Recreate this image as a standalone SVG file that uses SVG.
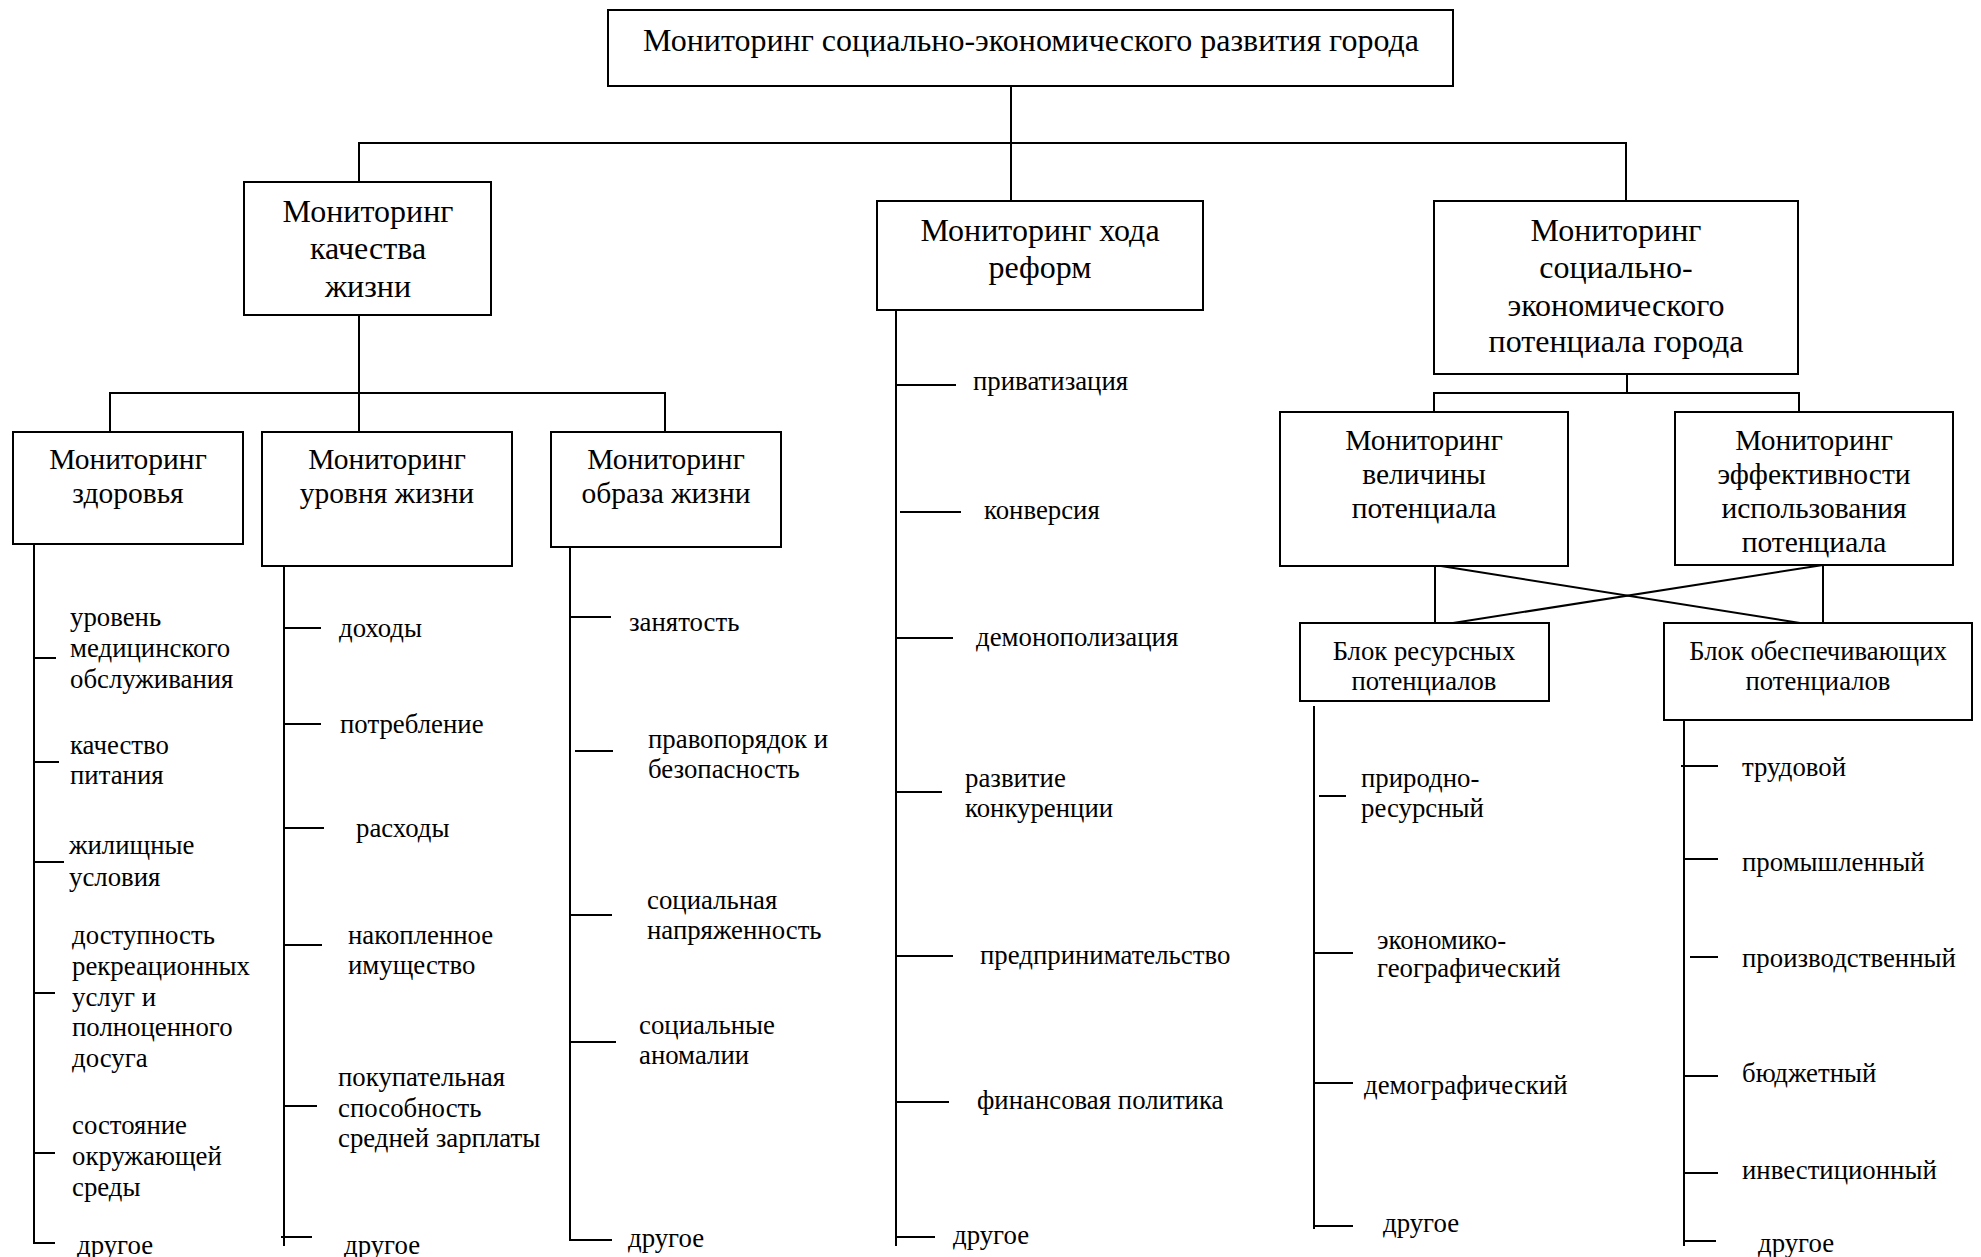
<svg xmlns="http://www.w3.org/2000/svg" width="1981" height="1257" viewBox="0 0 1981 1257">
<style>
.box{fill:#fff;stroke:#000;stroke-width:2}
line,polyline{stroke:#000;stroke-width:2;fill:none}
text{font-family:"Liberation Serif","Times New Roman",serif;fill:#000}
.t1{font-size:32px;text-anchor:middle}
.t2{font-size:32px;text-anchor:middle}
.t3{font-size:29.5px;text-anchor:middle}
.t4{font-size:26.7px;text-anchor:middle}
.it{font-size:26.8px}
</style>
<rect width="1981" height="1257" fill="#fff"/>
<g id="connectors">
<line x1="1011" y1="86" x2="1011" y2="201"/>
<polyline points="359,182 359,143 1626,143 1626,201"/>
<line x1="359" y1="315" x2="359" y2="432"/>
<polyline points="110,432 110,393 665,393 665,432"/>
<line x1="1627" y1="374" x2="1627" y2="393"/>
<polyline points="1434,412 1434,393 1799,393 1799,412"/>
<line x1="1435" y1="566" x2="1435" y2="623"/>
<line x1="1823" y1="565" x2="1823" y2="623"/>
<line x1="1441" y1="566" x2="1800" y2="623"/>
<line x1="1823" y1="565" x2="1453" y2="623"/>
<!-- spines -->
<line x1="34" y1="542" x2="34" y2="1244"/>
<line x1="284" y1="566" x2="284" y2="1246"/>
<line x1="570" y1="547" x2="570" y2="1241"/>
<line x1="896" y1="310" x2="896" y2="1246"/>
<line x1="1314" y1="706" x2="1314" y2="1229"/>
<line x1="1684" y1="720" x2="1684" y2="1246"/>
<!-- ticks health -->
<line x1="34" y1="658" x2="56" y2="658"/>
<line x1="34" y1="762" x2="59" y2="762"/>
<line x1="34" y1="862" x2="64" y2="862"/>
<line x1="34" y1="993" x2="55" y2="993"/>
<line x1="34" y1="1153" x2="55" y2="1153"/>
<line x1="33" y1="1243" x2="55" y2="1243"/>
<!-- ticks level -->
<line x1="284" y1="628" x2="321" y2="628"/>
<line x1="284" y1="724" x2="321" y2="724"/>
<line x1="284" y1="828" x2="324" y2="828"/>
<line x1="284" y1="945" x2="322" y2="945"/>
<line x1="284" y1="1106" x2="317" y2="1106"/>
<line x1="281" y1="1237" x2="312" y2="1237"/>
<!-- ticks lifestyle -->
<line x1="570" y1="617" x2="611" y2="617"/>
<line x1="575" y1="751" x2="613" y2="751"/>
<line x1="570" y1="915" x2="612" y2="915"/>
<line x1="570" y1="1042" x2="616" y2="1042"/>
<line x1="569" y1="1240" x2="612" y2="1240"/>
<!-- ticks reforms -->
<line x1="896" y1="385" x2="956" y2="385"/>
<line x1="900" y1="512" x2="961" y2="512"/>
<line x1="896" y1="638" x2="953" y2="638"/>
<line x1="896" y1="792" x2="942" y2="792"/>
<line x1="896" y1="956" x2="953" y2="956"/>
<line x1="896" y1="1102" x2="949" y2="1102"/>
<line x1="896" y1="1237" x2="935" y2="1237"/>
<!-- ticks resources -->
<line x1="1319" y1="796" x2="1346" y2="796"/>
<line x1="1314" y1="953" x2="1353" y2="953"/>
<line x1="1314" y1="1083" x2="1353" y2="1083"/>
<line x1="1314" y1="1226" x2="1353" y2="1226"/>
<!-- ticks provision -->
<line x1="1681" y1="766" x2="1718" y2="766"/>
<line x1="1684" y1="859" x2="1718" y2="859"/>
<line x1="1690" y1="957" x2="1718" y2="957"/>
<line x1="1684" y1="1076" x2="1718" y2="1076"/>
<line x1="1684" y1="1173" x2="1718" y2="1173"/>
<line x1="1684" y1="1241" x2="1716" y2="1241"/>
</g>
<g id="root">
<rect class="box" x="608" y="10" width="845" height="76"/>
<text class="t1" x="1031" y="51">Мониторинг социально-экономического развития города</text>
</g>
<g id="quality">
<rect class="box" x="244" y="182" width="247" height="133"/>
<text class="t2" x="368" y="222">Мониторинг</text>
<text class="t2" x="368" y="259">качества</text>
<text class="t2" x="368" y="297">жизни</text>
</g>
<g id="reforms">
<rect class="box" x="877" y="201" width="326" height="109"/>
<text class="t2" x="1040" y="241">Мониторинг хода</text>
<text class="t2" x="1040" y="278">реформ</text>
</g>
<g id="potential">
<rect class="box" x="1434" y="201" width="364" height="173"/>
<text class="t2" x="1616" y="241">Мониторинг</text>
<text class="t2" x="1616" y="278">социально-</text>
<text class="t2" x="1616" y="316">экономического</text>
<text class="t2" x="1616" y="352">потенциала города</text>
</g>
<g id="health">
<rect class="box" x="13" y="432" width="230" height="112"/>
<text class="t3" x="128" y="469">Мониторинг</text>
<text class="t3" x="128" y="503">здоровья</text>
<text class="it" x="70" y="626">уровень</text>
<text class="it" x="70" y="657">медицинского</text>
<text class="it" x="70" y="688">обслуживания</text>
<text class="it" x="70" y="754">качество</text>
<text class="it" x="70" y="784">питания</text>
<text class="it" x="69" y="854">жилищные</text>
<text class="it" x="69" y="886">условия</text>
<text class="it" x="72" y="944">доступность</text>
<text class="it" x="72" y="975">рекреационных</text>
<text class="it" x="72" y="1006">услуг и</text>
<text class="it" x="72" y="1036">полноценного</text>
<text class="it" x="72" y="1067">досуга</text>
<text class="it" x="72" y="1134">состояние</text>
<text class="it" x="72" y="1165">окружающей</text>
<text class="it" x="72" y="1196">среды</text>
<text class="it" x="77" y="1254">другое</text>
</g>
<g id="living-standard">
<rect class="box" x="262" y="432" width="250" height="134"/>
<text class="t3" x="387" y="469">Мониторинг</text>
<text class="t3" x="387" y="503">уровня жизни</text>
<text class="it" x="339" y="637">доходы</text>
<text class="it" x="340" y="733">потребление</text>
<text class="it" x="356" y="837">расходы</text>
<text class="it" x="348" y="944">накопленное</text>
<text class="it" x="348" y="974">имущество</text>
<text class="it" x="338" y="1086">покупательная</text>
<text class="it" x="338" y="1117">способность</text>
<text class="it" x="338" y="1147">средней зарплаты</text>
<text class="it" x="344" y="1254">другое</text>
</g>
<g id="lifestyle">
<rect class="box" x="551" y="432" width="230" height="115"/>
<text class="t3" x="666" y="469">Мониторинг</text>
<text class="t3" x="666" y="503">образа жизни</text>
<text class="it" x="629" y="631">занятость</text>
<text class="it" x="648" y="748">правопорядок и</text>
<text class="it" x="648" y="778">безопасность</text>
<text class="it" x="647" y="909">социальная</text>
<text class="it" x="647" y="939">напряженность</text>
<text class="it" x="639" y="1034">социальные</text>
<text class="it" x="639" y="1064">аномалии</text>
<text class="it" x="628" y="1247">другое</text>
</g>
<g id="reform-items">
<text class="it" x="973" y="390">приватизация</text>
<text class="it" x="984" y="519">конверсия</text>
<text class="it" x="976" y="646">демонополизация</text>
<text class="it" x="965" y="787">развитие</text>
<text class="it" x="965" y="817">конкуренции</text>
<text class="it" x="980" y="964">предпринимательство</text>
<text class="it" x="977" y="1109">финансовая политика</text>
<text class="it" x="953" y="1244">другое</text>
</g>
<g id="magnitude">
<rect class="box" x="1280" y="412" width="288" height="154"/>
<text class="t3" x="1424" y="450">Мониторинг</text>
<text class="t3" x="1424" y="484">величины</text>
<text class="t3" x="1424" y="518">потенциала</text>
</g>
<g id="efficiency">
<rect class="box" x="1675" y="412" width="278" height="153"/>
<text class="t3" x="1814" y="450">Мониторинг</text>
<text class="t3" x="1814" y="484">эффективности</text>
<text class="t3" x="1814" y="518">использования</text>
<text class="t3" x="1814" y="552">потенциала</text>
</g>
<g id="resource-block">
<rect class="box" x="1300" y="623" width="249" height="78"/>
<text class="t4" x="1424" y="660">Блок ресурсных</text>
<text class="t4" x="1424" y="690">потенциалов</text>
<text class="it" x="1361" y="787">природно-</text>
<text class="it" x="1361" y="817">ресурсный</text>
<text class="it" x="1377" y="949">экономико-</text>
<text class="it" x="1377" y="977">географический</text>
<text class="it" x="1364" y="1094">демографический</text>
<text class="it" x="1383" y="1232">другое</text>
</g>
<g id="provision-block">
<rect class="box" x="1664" y="623" width="308" height="97"/>
<text class="t4" x="1818" y="660">Блок обеспечивающих</text>
<text class="t4" x="1818" y="690">потенциалов</text>
<text class="it" x="1742" y="776">трудовой</text>
<text class="it" x="1742" y="871">промышленный</text>
<text class="it" x="1742" y="967">производственный</text>
<text class="it" x="1742" y="1082">бюджетный</text>
<text class="it" x="1742" y="1179">инвестиционный</text>
<text class="it" x="1758" y="1252">другое</text>
</g>
</svg>
